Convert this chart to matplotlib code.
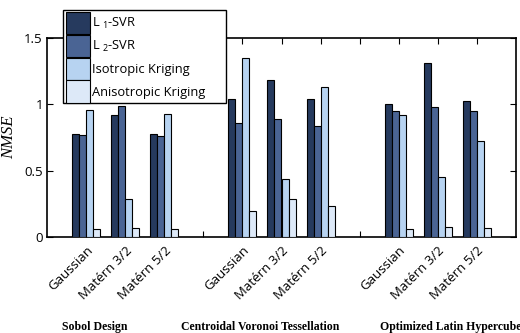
import matplotlib
matplotlib.use("Agg")
import matplotlib.pyplot as plt
import numpy as np
from matplotlib.patches import Patch, Rectangle

# Data
designs = ["Sobol Design", "Centroidal Voronoi Tessellation", "Optimized Latin Hypercube"]
kernels = ["Gaussian", "Matérn 3/2", "Matérn 5/2"]
series_names = ["L $_1$-SVR", "L $_2$-SVR", "Isotropic Kriging", "Anisotropic Kriging"]
l1_svr = [0.78, 0.92, 0.78, 1.04, 1.18, 1.04, 1.00, 1.31, 1.025]
l2_svr = [0.77, 0.99, 0.76, 0.86, 0.89, 0.84, 0.95, 0.98, 0.95]
iso_krig = [0.96, 0.29, 0.93, 1.35, 0.44, 1.13, 0.92, 0.45, 0.72]
aniso_krig = [0.058, 0.065, 0.06, 0.196, 0.286, 0.23, 0.058, 0.073, 0.07]
positions = [1, 2, 3, 5, 6, 7, 9, 10, 11]
colors = ["#263a5e", "#4a6494", "#b7d3f1", "#dde9f8"]

plt.rcParams['font.family'] = ['Open Sans', 'DejaVu Sans']
plt.rcParams['mathtext.fontset'] = 'custom'
plt.rcParams['mathtext.rm'] = 'Open Sans'
plt.rcParams['mathtext.it'] = 'Open Sans'

W, H = 520, 333
fig = plt.figure(figsize=(5.2, 3.33), dpi=100)
ax = fig.add_axes([47/W, 1-237/H, (516-47)/W, (237-38)/H])

w = 0.18
offsets = [-1.5*w, -0.5*w, 0.5*w, 1.5*w]
all_series = [l1_svr, l2_svr, iso_krig, aniso_krig]
pos = np.array(positions, dtype=float)
for s, off, c in zip(all_series, offsets, colors):
    ax.bar(pos + off, s, width=w, color=c, edgecolor='black', linewidth=0.8, zorder=3)

ax.set_xlim(0, 12)
ax.set_ylim(0, 1.5)
ax.set_yticks([0, 0.5, 1, 1.5])
ax.set_yticklabels(["0", "0.5", "1", "1.5"], fontsize=9.5)
xt = list(range(1, 12))
xl = []
for t in xt:
    if t in positions:
        xl.append(kernels[positions.index(t) % 3])
    else:
        xl.append("")
ax.set_xticks(xt)
ax.set_xticklabels(xl, rotation=45, ha='right', rotation_mode='anchor', fontsize=9.5)
ax.tick_params(direction='in', top=True, right=True, length=4, width=0.8, pad=3)
ax.tick_params(axis='x', pad=5)
for sp in ax.spines.values():
    sp.set_linewidth(1.2)

ax.set_ylabel("NMSE", fontsize=12, family='Liberation Serif', style='italic', labelpad=5)

# group labels
fig.text(95/W, 1-327/H, designs[0], ha='center', va='center',
         family='Liberation Serif', fontweight='bold', fontsize=8.5)
fig.text(260/W, 1-327/H, designs[1], ha='center', va='center',
         family='Liberation Serif', fontweight='bold', fontsize=8.5)
fig.text(380/W, 1-327/H, designs[2], ha='left', va='center',
         family='Liberation Serif', fontweight='bold', fontsize=8.5)

# legend box
fig.patches.append(Rectangle((63/W, 1-103/H), (226-63)/W, (103-10)/H,
                             transform=fig.transFigure, facecolor='white',
                             edgecolor='black', linewidth=1.0, zorder=9))
handles = [Patch(facecolor=c, edgecolor='black', linewidth=0.8) for c in colors]
leg = fig.legend(handles, series_names, loc='upper left',
                 bbox_to_anchor=(66/W, 1-12/H), fontsize=9.3,
                 handlelength=1.85, handleheight=2.25, labelspacing=0.06,
                 handletextpad=0.15, borderpad=0, borderaxespad=0,
                 frameon=False)
leg.set_zorder(10)

fig.savefig("out.png", dpi=100)
